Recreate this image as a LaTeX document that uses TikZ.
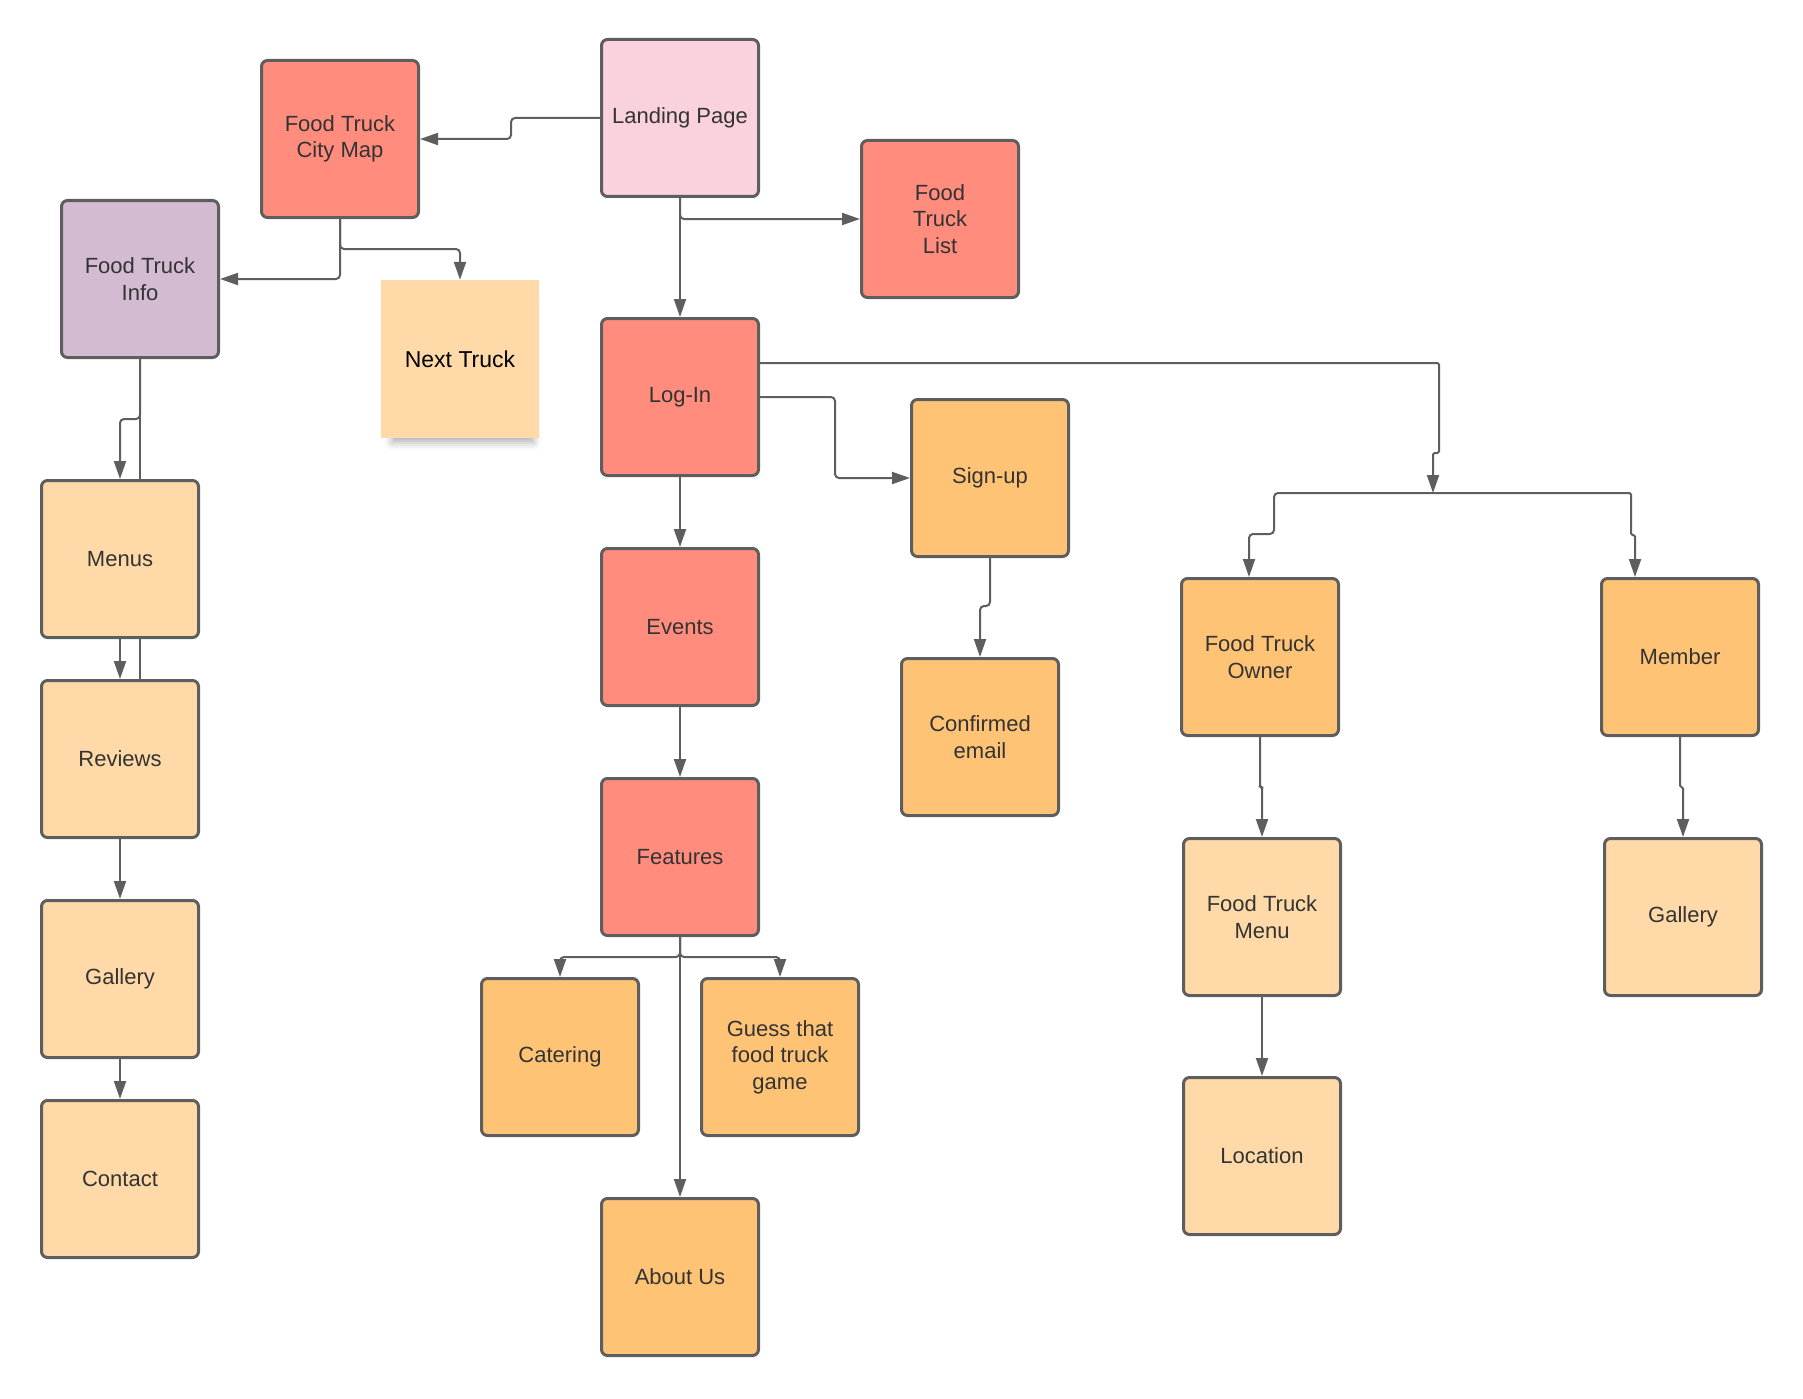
\documentclass[tikz,border=0pt]{standalone}
\usepackage{fontspec}
\setmainfont{Liberation Sans}
\usetikzlibrary{arrows.meta,calc,backgrounds,shadows.blur}
\definecolor{edge}{HTML}{5E5E5E}
\definecolor{ink}{HTML}{333333}
\definecolor{salmon}{HTML}{FF8C7D}
\definecolor{blush}{HTML}{F9D2DE}
\definecolor{lilac}{HTML}{D3BBD2}
\definecolor{peach}{HTML}{FFDAA8}
\definecolor{apricot}{HTML}{FFC375}

\begin{document}
\begin{tikzpicture}[
  x=1pt, y=-1pt,
  >={Triangle[length=18pt,width=12pt]},
  page/.style={draw=edge, line width=3pt, rounded corners=6pt, minimum width=157pt, minimum height=157pt,
    inner sep=0pt, align=center, text=ink, font=\fontsize{22}{26.5}\selectfont},
  redpage/.style={page, fill=salmon},
  pinkpage/.style={page, fill=blush},
  purplepage/.style={page, fill=lilac},
  lightpage/.style={page, fill=peach},
  orangepage/.style={page, fill=apricot},
  sticky/.style={fill=peach, minimum width=158pt, minimum height=158pt, align=center, font=\fontsize{23}{27}\selectfont,
    blur shadow={shadow xshift=3pt, shadow yshift=-14pt, shadow scale=0.9, shadow blur radius=8pt, shadow opacity=30}},
  link/.style={->, draw=edge, line width=2pt, rounded corners=4pt},
  jog/.style={link, rounded corners=1.5pt},
]
\useasboundingbox (0,0) rectangle (1803,1399);
% top row
\node[pinkpage]   (landing)  at (680,118)  {Landing Page};
\node[redpage]    (citymap)  at (340,139)  {Food Truck\\City Map};
\node[redpage]    (list)     at (940,219)  {Food\\Truck\\List};
\node[purplepage] (info)     at (140,279)  {Food Truck\\Info};
\node[sticky]     (next)     at (460,359)  {Next Truck};
% truck info column
\node[lightpage]  (menus)    at (120,559)  {Menus};
\node[lightpage]  (reviews)  at (120,759)  {Reviews};
\node[lightpage]  (galleryL) at (120,979)  {Gallery};
\node[lightpage]  (contact)  at (120,1179) {Contact};
% main column
\node[redpage]    (login)    at (680,397)  {Log-In};
\node[redpage]    (events)   at (680,627)  {Events};
\node[redpage]    (features) at (680,857)  {Features};
\node[orangepage] (catering) at (560,1057) {Catering};
\node[orangepage] (guess)    at (780,1057) {Guess that\\food truck\\game};
\node[orangepage] (about)    at (680,1277) {About Us};
\node[orangepage] (signup)   at (990,478)  {Sign-up};
\node[orangepage] (confirm)  at (980,737)  {Confirmed\\email};
% accounts
\node[orangepage] (owner)    at (1260,657) {Food Truck\\Owner};
\node[orangepage] (member)   at (1680,657) {Member};
\node[lightpage]  (ftmenu)   at (1262,917) {Food Truck\\Menu};
\node[lightpage]  (galleryR) at (1683,917) {Gallery};
\node[lightpage]  (location) at (1262,1156) {Location};
\coordinate (split) at (1433,493);

\foreach \a/\b in {landing/login,login/events,events/features,features/about,menus/reviews,reviews/galleryL,galleryL/contact,ftmenu/location}
  \draw[link] (\a.south) -- (\b.north);
\draw[link] (landing.west) -- ++(-89,0) |- (citymap.east);
\draw[link] (landing.south) |- (list.west);
\draw[link] (citymap.south) |- (info.east);
\draw[link] (citymap.south) -- ++(0,30) -| (next.north);
\draw[link] (info.south) -- ++(0,60) -| (menus.north);
% line from info passing behind menus
\begin{scope}[on background layer]
  \draw[draw=edge, line width=2pt] (info.south) -- (info.south |- reviews.north);
\end{scope}
\draw[link] (features.south) -- ++(0,20) -| (catering.north);
\draw[link] (features.south) -- ++(0,20) -| (guess.north);
\draw[link] (login.east) -- ++(75,0) |- (signup.west);
\draw[link] (signup.south) -- ++(0,48) -| (confirm.north);
% log-in to the two account kinds
\draw[jog] ($(login.east)+(0,-34)$) -| ($(split)+(6,-40)$) -| (split);
\draw[link] (split) -| ($(split)+(-159,41)$) -| ($(owner.north)+(-11,0)$);
\draw[jog] (split) -| ($(split)+(198,42)$) -| ($(member.north)+(-45,0)$);
\draw[jog] (owner.south) -- ++(0,50) -| (ftmenu.north);
\draw[jog] (member.south) -- ++(0,50) -| (galleryR.north);
\end{tikzpicture}
\end{document}
